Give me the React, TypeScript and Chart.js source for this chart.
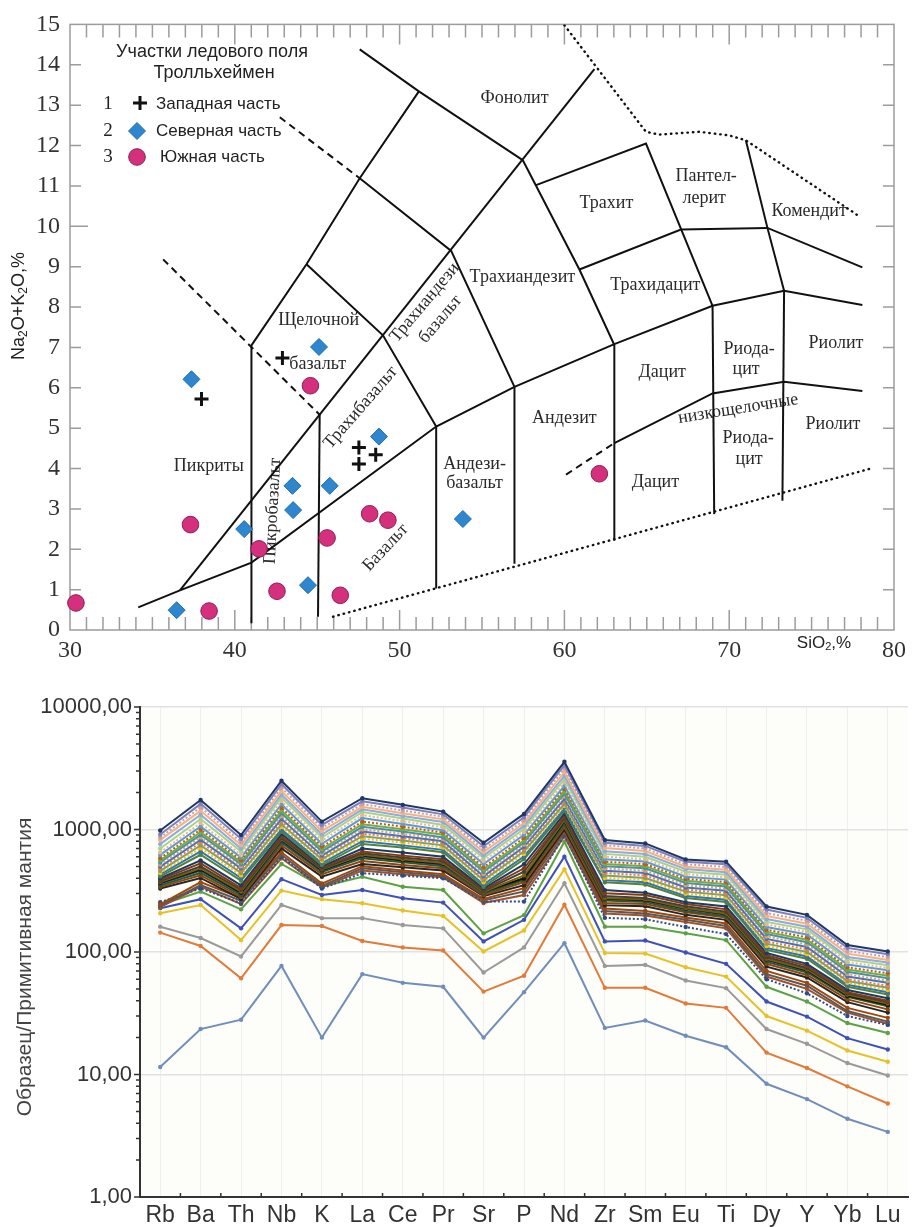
import React, { useEffect, useRef } from 'react';
import { Chart, registerables } from 'chart.js';
Chart.register(...registerables);

const SERIF = "'Liberation Serif', 'DejaVu Serif', serif";
const SANS = "'Liberation Sans', Arial, sans-serif";

// ---------------- TAS diagram data ----------------
const westX = [37.98, 42.89, 47.53, 47.53, 48.55];
const westY = [5.72, 6.74, 4.52, 4.11, 4.34];
const northX = [37.37, 45.11, 48.75, 43.5, 45.76, 43.54, 40.57, 44.44, 36.47, 53.84];
const northY = [6.21, 7.01, 4.79, 3.57, 3.57, 2.97, 2.5, 1.11, 0.49, 2.75];
const southX = [44.59, 37.31, 41.47, 45.6, 48.18, 49.29, 42.56, 46.4, 30.36, 38.44, 62.12];
const southY = [6.05, 2.61, 2.01, 2.28, 2.88, 2.72, 0.96, 0.86, 0.67, 0.47, 3.87];

const xTickValues = [30, 40, 50, 60, 70, 80];

// field boundaries (SiO2, Na2O+K2O)
const solidBoundaries: number[][][] = [
  [[34.14, 0.56], [36.67, 0.98], [41.01, 1.67], [52.22, 5.04], [56.97, 6.02], [63.03, 7.08], [68.99, 8.03], [73.33, 8.4], [78.08, 8.05]],
  [[36.67, 0.98], [61.82, 13.89]],
  [[41.01, 0.17], [41.01, 7.05], [44.35, 9.06], [47.58, 11.19], [51.17, 13.34]],
  [[47.58, 14.38], [51.17, 13.34], [57.47, 11.64]],
  [[47.58, 11.19], [53.13, 9.39], [56.97, 6.02]],
  [[44.35, 9.06], [48.99, 7.3], [52.22, 5.04]],
  [[57.47, 11.64], [60.91, 8.93], [63.03, 7.06]],
  [[58.28, 11.02], [64.95, 12.05], [68.99, 8.03]],
  [[60.91, 8.93], [67.07, 9.92], [72.32, 9.96], [78.08, 8.98]],
  [[71.01, 12.13], [72.32, 9.96], [73.33, 8.4]],
  [[68.99, 8.03], [69.09, 2.87]],
  [[73.33, 8.4], [73.23, 3.2]],
  [[63.03, 7.06], [63.03, 2.21]],
  [[56.97, 6.02], [56.97, 1.64]],
  [[52.22, 5.04], [52.22, 1.03]],
  [[45.15, 5.33], [45.05, 0.33]],
  [[63.03, 4.63], [68.99, 5.86], [73.33, 6.15], [78.08, 5.92]],
];
const dashedBoundaries: number[][][] = [
  [[42.73, 12.7], [47.58, 11.19]],
  [[35.65, 9.18], [45.15, 5.33]],
  [[60.1, 3.85], [63.03, 4.63]],
];
const dottedBoundaries: number[][][] = [
  [[45.96, 0.33], [78.68, 4.01]],
  [[60.0, 14.98], [64.95, 12.34], [65.76, 12.27], [68.18, 12.34], [70.0, 12.25], [71.01, 12.13], [77.88, 10.25]],
];

const fieldLabels: { t: string; x: number; y: number; r?: number }[] = [
  { t: 'Фонолит', x: 56.97, y: 13.18 },
  { t: 'Трахит', x: 62.55, y: 10.57 },
  { t: 'Пантел-', x: 68.6, y: 11.24 },
  { t: 'лерит', x: 68.48, y: 10.7 },
  { t: 'Комендит', x: 74.85, y: 10.38 },
  { t: 'Трахиандезит', x: 57.45, y: 8.73 },
  { t: 'Трахидацит', x: 65.52, y: 8.53 },
  { t: 'Дацит', x: 65.94, y: 6.39 },
  { t: 'Риода-', x: 71.21, y: 6.96 },
  { t: 'цит', x: 71.03, y: 6.47 },
  { t: 'Риолит', x: 76.48, y: 7.11 },
  { t: 'Андезит', x: 60.0, y: 5.24 },
  { t: 'низкощелочные', x: 70.55, y: 5.48, r: -9 },
  { t: 'Риода-', x: 71.15, y: 4.75 },
  { t: 'цит', x: 71.21, y: 4.23 },
  { t: 'Риолит', x: 76.3, y: 5.09 },
  { t: 'Андези-', x: 54.55, y: 4.11 },
  { t: 'базальт', x: 54.55, y: 3.64 },
  { t: 'Дацит', x: 65.52, y: 3.66 },
  { t: 'Щелочной', x: 45.09, y: 7.67 },
  { t: 'базальт', x: 45.03, y: 6.59 },
  { t: 'Трахиандези', x: 51.52, y: 8.11, r: -50 },
  { t: 'базальт', x: 52.48, y: 7.7, r: -50 },
  { t: 'Трахибазальт', x: 47.64, y: 5.51, r: -49 },
  { t: 'Пикробазальт', x: 42.3, y: 2.95, r: -87 },
  { t: 'Базальт', x: 49.15, y: 2.04, r: -47 },
  { t: 'Пикриты', x: 38.42, y: 4.06 },
];

// ---------------- Spider diagram data ----------------
const elements = ['Rb', 'Ba', 'Th', 'Nb', 'K', 'La', 'Ce', 'Pr', 'Sr', 'P', 'Nd', 'Zr', 'Sm', 'Eu', 'Ti', 'Dy', 'Y', 'Yb', 'Lu'];
const yTickValues = [1, 10, 100, 1000, 10000];

const sT1 = [980, 1740, 900, 2500, 1160, 1800, 1590, 1400, 780, 1340, 3570, 820, 770, 570, 546, 235, 201, 114, 101];
const sT2 = [910, 1620, 840, 2350, 1090, 1700, 1510, 1330, 730, 1260, 3350, 780, 735, 545, 520, 222, 190, 108, 96];
const sT3 = [860, 1520, 790, 2200, 1030, 1610, 1430, 1270, 690, 1190, 3150, 745, 700, 520, 495, 208, 180, 102, 91];
const sT4 = [820, 1420, 745, 2060, 970, 1530, 1360, 1210, 655, 1130, 2950, 705, 668, 497, 470, 197, 170, 97, 86];
const sT5 = [760, 1320, 700, 1930, 910, 1460, 1290, 1150, 615, 1070, 2750, 665, 630, 475, 448, 186, 161, 91, 82];
const sT6 = [700, 1220, 660, 1820, 860, 1390, 1230, 1090, 585, 1010, 2580, 632, 598, 452, 428, 176, 153, 87, 78];
const sT7 = [650, 1130, 620, 1710, 810, 1310, 1170, 1040, 553, 955, 2420, 602, 572, 432, 408, 168, 146, 83, 74];
const sT8 = [620, 1060, 590, 1610, 765, 1240, 1110, 985, 522, 905, 2270, 572, 547, 412, 390, 160, 139, 79, 71];
const sT9 = [585, 1000, 562, 1510, 725, 1160, 1055, 945, 492, 855, 2160, 546, 522, 396, 372, 152, 132, 75, 67];
const sT10 = [560, 950, 540, 1430, 692, 1105, 1005, 905, 472, 812, 2060, 522, 502, 381, 357, 146, 126, 72, 64];
const sT11 = [540, 905, 520, 1355, 662, 1052, 962, 862, 452, 782, 1960, 501, 482, 366, 342, 140, 120, 69, 61];
const sT12 = [518, 862, 500, 1285, 638, 1002, 922, 832, 432, 752, 1860, 481, 461, 351, 329, 134, 115, 66, 58];
const sT13 = [498, 822, 482, 1222, 612, 962, 882, 802, 416, 722, 1782, 461, 441, 336, 316, 128, 110, 63, 56];
const sT14 = [480, 782, 462, 1162, 592, 922, 852, 772, 401, 692, 1702, 441, 421, 323, 303, 122, 105, 60, 53];
const sT15 = [460, 742, 442, 1102, 572, 882, 812, 742, 386, 662, 1622, 421, 402, 311, 291, 117, 100, 58, 51];
const sT16 = [442, 702, 422, 1052, 552, 842, 782, 712, 371, 632, 1552, 402, 386, 299, 279, 112, 96, 56, 49];
const sT17 = [430, 662, 402, 1002, 532, 802, 742, 682, 356, 602, 1482, 386, 371, 286, 267, 108, 92, 54, 47];
const sT18 = [415, 622, 382, 962, 512, 762, 712, 652, 341, 572, 1422, 371, 356, 276, 256, 104, 88, 52, 45];
const sD1 = [400, 560, 350, 920, 500, 700, 650, 600, 330, 520, 1350, 320, 305, 255, 235, 98, 80, 49, 42];
const sD2 = [390, 530, 332, 880, 490, 662, 612, 572, 322, 482, 1282, 302, 292, 246, 223, 94, 77, 47, 40];
const sD3 = [380, 500, 322, 850, 480, 640, 590, 550, 316, 452, 1232, 286, 276, 236, 213, 91, 74, 46, 39];
const sD4 = [372, 482, 312, 832, 472, 622, 572, 532, 310, 422, 1192, 276, 269, 229, 206, 88, 72, 45, 38];
const sD5 = [368, 472, 305, 822, 466, 612, 562, 526, 311, 398, 1172, 273, 266, 227, 204, 87, 71, 44, 37];
const sD6 = [360, 462, 300, 802, 460, 602, 556, 516, 305, 402, 1152, 271, 263, 223, 201, 86, 70, 44, 37];
const sD7 = [350, 442, 291, 782, 451, 582, 541, 501, 300, 386, 1102, 263, 256, 216, 196, 83, 68, 43, 36];
const sD8 = [340, 422, 281, 742, 432, 552, 512, 482, 291, 371, 1052, 251, 246, 211, 191, 80, 65, 41, 34];
const sD9 = [330, 402, 271, 702, 412, 522, 492, 462, 286, 351, 1002, 241, 236, 201, 183, 76, 62, 39, 32];
const sM1 = [245, 372, 276, 652, 362, 502, 462, 432, 271, 332, 982, 226, 216, 191, 171, 70, 56, 35, 29];
const sM2 = [238, 352, 262, 622, 347, 482, 447, 417, 263, 312, 942, 216, 206, 183, 163, 66, 53, 33, 27];
const sM3 = [255, 330, 250, 600, 330, 440, 420, 400, 258, 258, 900, 190, 185, 160, 140, 60, 46, 30, 25.4];
const sM4 = [232, 342, 246, 582, 337, 462, 432, 407, 251, 292, 882, 206, 199, 176, 156, 63, 50, 32, 26];
const sL6 = [242, 311, 223, 523, 341, 412, 341, 321, 142, 200, 795, 161, 161, 142, 125, 52, 39.4, 26.3, 21.8];
const sL5 = [228, 270, 156, 393, 292, 321, 275, 253, 122, 183, 600, 122, 124, 99, 80, 39.4, 29.7, 19.8, 16];
const sL4 = [207, 242, 125, 317, 270, 250, 218, 197, 101, 150, 473, 98, 97, 75, 63, 30, 22.8, 15.7, 12.7];
const sL3 = [161, 130, 92, 242, 189, 189, 166, 156, 68, 109, 364, 77, 78.5, 58.5, 50.7, 23.5, 17.8, 12.4, 9.8];
const sL2 = [144, 112, 61, 166, 163, 123, 109, 103, 47.5, 64, 243, 51, 51, 38, 35, 15.1, 11.3, 8, 5.8];
const sL1 = [11.5, 23.5, 28, 77, 20, 66, 56, 52, 20, 47, 118, 24, 27.6, 20.7, 16.7, 8.4, 6.3, 4.35, 3.4];

const spiderSeries = [sT1, sT2, sT3, sT4, sT5, sT6, sT7, sT8, sT9, sT10, sT11, sT12, sT13, sT14, sT15, sT16, sT17, sT18,
  sD1, sD2, sD3, sD4, sD5, sD6, sD7, sD8, sD9, sM1, sM2, sM3, sM4, sL6, sL5, sL4, sL3, sL2, sL1];
const spiderColors = ['#1F3864', '#7F7FBF', '#C9A0A0', '#F4B183', '#8FAADC', '#A9D18E', '#E8B88A', '#5B9BD5', '#C55A11',
  '#70AD47', '#4E8FA8', '#D9A066', '#4472C4', '#ED7D31', '#7F9F6F', '#FFC000', '#2E75B6', '#548235',
  '#203864', '#843C0C', '#404040', '#7F6000', '#111111', '#1F4E79', '#385723', '#8B4513', '#262626',
  '#9E480E', '#595959', '#2F4B8A', '#A0522D', '#5DA046', '#3F51B5', '#E6C229', '#9A9A9A', '#E07B39', '#6F8FB8'];
const spiderDotted = [2, 6, 8, 11, 13, 15, 29];

// ---------------- helpers ----------------
function toXY(xs: number[], ys: number[]) {
  return xs.map((x, i) => ({ x, y: ys[i] }));
}
function pairs(p: number[][]) {
  return p.map(([x, y]) => ({ x, y }));
}
type Part = { t: string; sub?: boolean };
function drawSubText(ctx: CanvasRenderingContext2D, parts: Part[], cx: number, cy: number, size: number, family: string) {
  let total = 0;
  for (const p of parts) {
    ctx.font = `${p.sub ? Math.round(size * 0.65) : size}px ${family}`;
    total += ctx.measureText(p.t).width;
  }
  let x = cx - total / 2;
  ctx.textAlign = 'left';
  ctx.textBaseline = 'middle';
  for (const p of parts) {
    ctx.font = `${p.sub ? Math.round(size * 0.65) : size}px ${family}`;
    ctx.fillText(p.t, x, p.sub ? cy + size * 0.25 : cy);
    x += ctx.measureText(p.t).width;
  }
}

const tasDecor = {
  id: 'tasDecor',
  beforeDraw(chart: any) {
    const { ctx, width, height } = chart;
    ctx.save();
    ctx.fillStyle = '#ffffff';
    ctx.fillRect(0, 0, width, height);
    ctx.restore();
  },
  beforeDatasetsDraw(chart: any) {
    const { ctx, chartArea: a, scales } = chart;
    const x = scales.x, y = scales.y;
    ctx.save();
    ctx.strokeStyle = '#9c9c9c';
    ctx.lineWidth = 1.5;
    ctx.strokeRect(a.left, a.top, a.right - a.left, a.bottom - a.top);
    ctx.beginPath();
    for (let v = 31; v < 80; v++) {
      const px = x.getPixelForValue(v);
      const len = v % 10 === 0 ? 20 : 13;
      ctx.moveTo(px, a.bottom); ctx.lineTo(px, a.bottom - len);
      ctx.moveTo(px, a.top); ctx.lineTo(px, a.top + len);
    }
    for (let v = 1; v < 15; v++) {
      const py = y.getPixelForValue(v);
      const len = v === 10 ? 18 : 11;
      ctx.moveTo(a.left, py); ctx.lineTo(a.left + len, py);
      ctx.moveTo(a.right, py); ctx.lineTo(a.right - len, py);
    }
    ctx.stroke();
    ctx.fillStyle = '#2a2a2a';
    ctx.font = `18px ${SERIF}`;
    ctx.textAlign = 'center';
    ctx.textBaseline = 'middle';
    for (const l of fieldLabels) {
      ctx.save();
      ctx.translate(x.getPixelForValue(l.x), y.getPixelForValue(l.y));
      if (l.r) ctx.rotate((l.r * Math.PI) / 180);
      ctx.fillText(l.t, 0, 0);
      ctx.restore();
    }
    ctx.restore();
  },
  afterDraw(chart: any) {
    const { ctx } = chart;
    ctx.save();
    ctx.fillStyle = '#222';
    // legend title
    ctx.font = `18px ${SANS}`;
    ctx.textAlign = 'center';
    ctx.textBaseline = 'middle';
    ctx.fillText('Участки ледового поля', 212, 52);
    ctx.fillText('Тролльхеймен', 214, 73);
    // numbers
    ctx.font = `19px ${SERIF}`;
    ctx.fillText('1', 108, 104);
    ctx.fillText('2', 108, 131);
    ctx.fillText('3', 108, 157);
    // labels
    ctx.font = `17px ${SANS}`;
    ctx.textAlign = 'left';
    ctx.fillText('Западная часть', 156, 104);
    ctx.fillText('Северная часть', 156, 131);
    ctx.fillText('Южная часть', 160, 157);
    // symbols
    ctx.strokeStyle = '#111';
    ctx.lineWidth = 3;
    ctx.beginPath();
    ctx.moveTo(133, 103); ctx.lineTo(147, 103);
    ctx.moveTo(140, 96); ctx.lineTo(140, 110);
    ctx.stroke();
    ctx.fillStyle = '#2e86cf';
    ctx.strokeStyle = '#1f6eae';
    ctx.lineWidth = 1;
    ctx.beginPath();
    ctx.moveTo(137 - 8.5, 131); ctx.lineTo(137, 122.5); ctx.lineTo(145.5, 131); ctx.lineTo(137, 139.5); ctx.closePath();
    ctx.fill(); ctx.stroke();
    ctx.fillStyle = '#d4307d';
    ctx.strokeStyle = '#8e1f50';
    ctx.beginPath();
    ctx.arc(137, 157, 8.3, 0, Math.PI * 2);
    ctx.fill(); ctx.stroke();
    // axis titles
    ctx.fillStyle = '#222';
    drawSubText(ctx, [{ t: 'SiO' }, { t: '2', sub: true }, { t: ',%' }], 824, 643, 17, SANS);
    ctx.save();
    ctx.translate(19, 306);
    ctx.rotate(-Math.PI / 2);
    drawSubText(ctx, [{ t: 'Na' }, { t: '2', sub: true }, { t: 'O+K' }, { t: '2', sub: true }, { t: 'O,%' }], 0, 0, 18, SANS);
    ctx.restore();
    ctx.restore();
  },
};

const spiderDecor = {
  id: 'spiderDecor',
  beforeDraw(chart: any) {
    const { ctx, width, height, chartArea: a } = chart;
    ctx.save();
    ctx.fillStyle = '#ffffff';
    ctx.fillRect(0, 0, width, height);
    ctx.fillStyle = '#fdfdf9';
    ctx.fillRect(a.left, a.top, a.right - a.left, a.bottom - a.top);
    ctx.restore();
  },
  afterDraw(chart: any) {
    const { ctx, chartArea: a, scales } = chart;
    const x = scales.x, y = scales.y;
    ctx.save();
    ctx.strokeStyle = '#333';
    ctx.lineWidth = 1.5;
    ctx.beginPath();
    for (let i = 0; i < elements.length - 1; i++) {
      const px = (x.getPixelForValue(i) + x.getPixelForValue(i + 1)) / 2;
      ctx.moveTo(px, a.bottom); ctx.lineTo(px, a.bottom - 4);
    }
    for (let k = 0; k < 4; k++) {
      for (let m = 1; m <= 10; m++) {
        const v = m * Math.pow(10, k);
        const py = y.getPixelForValue(v);
        const len = m === 1 || m === 10 ? 6 : 4;
        ctx.moveTo(a.left, py); ctx.lineTo(a.left - len, py);
      }
    }
    ctx.stroke();
    ctx.fillStyle = '#444';
    ctx.font = `21px ${SANS}`;
    ctx.textAlign = 'center';
    ctx.textBaseline = 'middle';
    ctx.translate(25, 307);
    ctx.rotate(-Math.PI / 2);
    ctx.fillText('Образец/Примитивная мантия', 0, 0);
    ctx.restore();
  },
};

function tasConfig(): any {
  const pointSets = [
    {
      label: 'Западная часть', data: toXY(westX, westY), pointStyle: 'cross', pointRadius: 7,
      pointBorderColor: '#111', pointBackgroundColor: '#111', pointBorderWidth: 3, showLine: false, clip: false,
    },
    {
      label: 'Северная часть', data: toXY(northX, northY), pointStyle: 'rectRot', pointRadius: 8.5,
      pointBorderColor: '#1f6eae', pointBackgroundColor: '#2e86cf', pointBorderWidth: 1, showLine: false, clip: false,
    },
    {
      label: 'Южная часть', data: toXY(southX, southY), pointStyle: 'circle', pointRadius: 8.3,
      pointBorderColor: '#8e1f50', pointBackgroundColor: '#d4307d', pointBorderWidth: 1, showLine: false, clip: false,
    },
  ];
  const lineSets: any[] = [];
  for (const b of solidBoundaries) {
    lineSets.push({ data: pairs(b), showLine: true, pointRadius: 0, borderColor: '#111', borderWidth: 2, tension: 0, fill: false });
  }
  for (const b of dashedBoundaries) {
    lineSets.push({ data: pairs(b), showLine: true, pointRadius: 0, borderColor: '#111', borderWidth: 2, borderDash: [7, 5], tension: 0, fill: false });
  }
  for (const b of dottedBoundaries) {
    lineSets.push({ data: pairs(b), showLine: true, pointRadius: 0, borderColor: '#111', borderWidth: 2.4, borderDash: [0.5, 5], borderCapStyle: 'round', tension: 0, fill: false });
  }
  return {
    type: 'scatter',
    data: { datasets: [...pointSets, ...lineSets] },
    options: {
      responsive: false,
      animation: false,
      events: [],
      layout: { padding: { left: 0, right: 17, top: 20, bottom: 0 } },
      plugins: { legend: { display: false }, tooltip: { enabled: false } },
      scales: {
        x: {
          type: 'linear', min: 30, max: 80,
          afterBuildTicks: (s: any) => { s.ticks = xTickValues.map((v) => ({ value: v })); },
          afterFit: (s: any) => { s.height = 30; },
          grid: { display: false, drawTicks: false },
          border: { display: false },
          ticks: { font: { family: SERIF, size: 24 }, color: '#333', padding: 6, maxRotation: 0, autoSkip: false },
        },
        y: {
          type: 'linear', min: 0, max: 15,
          afterFit: (s: any) => { s.width = 70; },
          grid: { display: false, drawTicks: false },
          border: { display: false },
          ticks: { stepSize: 1, font: { family: SERIF, size: 24 }, color: '#333', padding: 10 },
        },
      },
    },
    plugins: [tasDecor],
  };
}

function spiderConfig(): any {
  return {
    type: 'line',
    data: {
      labels: elements,
      datasets: spiderSeries.map((vals, i) => ({
        data: vals,
        borderColor: spiderColors[i],
        backgroundColor: spiderColors[i],
        borderWidth: 2,
        borderDash: spiderDotted.includes(i) ? [2, 2] : [],
        pointRadius: 2.2,
        pointBorderWidth: 0,
        pointBackgroundColor: spiderColors[i],
        tension: 0,
        fill: false,
      })),
    },
    options: {
      responsive: false,
      animation: false,
      events: [],
      layout: { padding: { left: 0, right: 3, top: 47, bottom: 0 } },
      plugins: { legend: { display: false }, tooltip: { enabled: false } },
      scales: {
        x: {
          type: 'category', offset: true,
          afterFit: (s: any) => { s.height = 30; },
          grid: { offset: false, color: '#efefef', drawTicks: false },
          border: { display: true, color: '#333', width: 2 },
          ticks: { font: { family: SANS, size: 23 }, color: '#333', padding: 5, maxRotation: 0, autoSkip: false },
        },
        y: {
          type: 'logarithmic', min: 1, max: 10000,
          afterBuildTicks: (s: any) => { s.ticks = yTickValues.map((v) => ({ value: v })); },
          afterFit: (s: any) => { s.width = 140; },
          grid: { color: '#e2e2e2', lineWidth: 1.5, drawTicks: false },
          border: { display: true, color: '#333', width: 2 },
          ticks: { font: { family: SANS, size: 22 }, color: '#333', padding: 8, callback: (v: any) => `${v},00` },
        },
      },
    },
    plugins: [spiderDecor],
  };
}

export default function App() {
  const topRef = useRef<HTMLCanvasElement>(null);
  const botRef = useRef<HTMLCanvasElement>(null);
  useEffect(() => {
    const c1 = new Chart(topRef.current as HTMLCanvasElement, tasConfig());
    const c2 = new Chart(botRef.current as HTMLCanvasElement, spiderConfig());
    return () => {
      c1.destroy();
      c2.destroy();
    };
  }, []);
  return (
    <div style={{ position: 'absolute', left: 0, top: 0, width: 912, height: 1227, background: '#fff' }}>
      <canvas ref={topRef} width={912} height={660} style={{ display: 'block' }} />
      <canvas ref={botRef} width={912} height={567} style={{ display: 'block' }} />
    </div>
  );
}
